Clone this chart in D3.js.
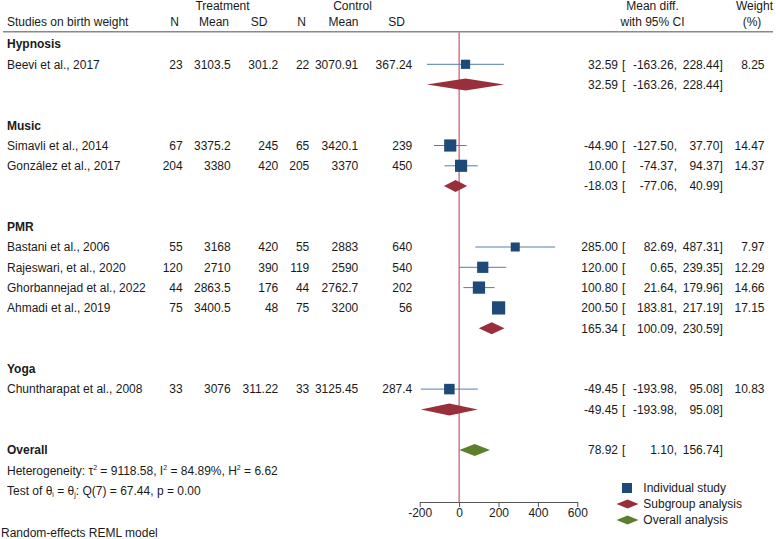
<!DOCTYPE html>
<html><head><meta charset="utf-8">
<script src="https://cdn.jsdelivr.net/npm/d3@7"></script>
<style>body{margin:0;background:#fff}svg{display:block}text{font-family:"Liberation Sans",Arial,Helvetica,sans-serif;font-size:12px;fill:#1a1a1a}</style>
</head><body>
<svg id="c" width="776" height="539"></svg>
<script>
const groups = ["Hypnosis","Music","PMR","Yoga"];
const studyNames = ["Beevi et al., 2017","Simavli et al., 2014","González et al., 2017","Bastani et al., 2006","Rajeswari, et al., 2020","Ghorbannejad et al., 2022","Ahmadi et al., 2019","Chuntharapat et al., 2008"];
const studyGroup = ["Hypnosis","Music","Music","PMR","PMR","PMR","PMR","Yoga"];
const treatN = [23,67,204,55,120,44,75,33];
const treatMean = [3103.5,3375.2,3380,3168,2710,2863.5,3400.5,3076];
const treatSD = [301.2,245,420,420,390,176,48,311.22];
const ctrlN = [22,65,205,55,119,44,75,33];
const ctrlMean = [3070.91,3420.1,3370,2883,2590,2762.7,3200,3125.45];
const ctrlSD = [367.24,239,450,640,540,202,56,287.4];
const effect = [32.59,-44.90,10.00,285.00,120.00,100.80,200.50,-49.45];
const lower = [-163.26,-127.50,-74.37,82.69,0.65,21.64,183.81,-193.98];
const upper = [228.44,37.70,94.37,487.31,239.35,179.96,217.19,95.08];
const weight = [8.25,14.47,14.37,7.97,12.29,14.66,17.15,10.83];
const subEffect = [32.59,-18.03,165.34,-49.45];
const subLower = [-163.26,-77.06,100.09,-193.98];
const subUpper = [228.44,40.99,230.59,95.08];
const overall = [78.92,1.10,156.74];
const xTicks = [-200,0,200,400,600];

const svg = d3.select("#c");
const x = d3.scaleLinear().domain([-200,600]).range([419.7,577.3]);
const rowY = k => 44 + k*20.3;
const BL = 4.3;
const C = {sq:"#1d4a78", ci:"#4f7fb3", dia:"#98303b", green:"#5b7f2b", ref:"#c0304f", rule:"#8a8a8a", axis:"#555"};
const cols = {n1:182.7,m1:230.7,s1:278.3,n2:309.3,m2:358.3,s2:412.3};
const f2 = v => v.toFixed(2);

function txt(xp,y,s,anchor,bold){
  return svg.append("text").attr("x",xp).attr("y",y+BL).attr("text-anchor",anchor||"start")
    .style("font-weight",bold?"bold":null).text(s);
}
// headers
txt(222.5,5.5,"Treatment","middle");
txt(352.5,5.5,"Control","middle");
txt(652.5,5.5,"Mean diff.","middle");
txt(754.5,5.5,"Weight","middle");
txt(7,21.7,"Studies on birth weight");
txt(174.5,21.7,"N","middle");
txt(214,21.7,"Mean","middle");
txt(259,21.7,"SD","middle");
txt(301.5,21.7,"N","middle");
txt(343.5,21.7,"Mean","middle");
txt(396.5,21.7,"SD","middle");
txt(652.5,21.7,"with 95% CI","middle");
txt(752,21.7,"(%)","middle");
svg.append("line").attr("x1",3).attr("x2",773).attr("y1",31.7).attr("y2",31.7).attr("stroke",C.rule).attr("stroke-width",1.6);

// reference line
svg.append("line").attr("x1",x(0)).attr("x2",x(0)).attr("y1",32.5).attr("y2",502).attr("stroke",C.ref).attr("stroke-width",1);

function effText(y,e,l,u){
  txt(618,y,f2(e),"end");
  txt(622,y,"[");
  txt(677,y,f2(l)+",","end");
  txt(722.8,y,f2(u)+"]","end");
}
function diamond(y,e,l,u,col){
  const h=6;
  svg.append("path").attr("d",`M${x(l)},${y}L${x(e)},${y-h}L${x(u)},${y}L${x(e)},${y+h}Z`).attr("fill",col);
}

let k=0;
groups.forEach((g,gi)=>{
  txt(7,rowY(k),g,"start",true); k++;
  studyNames.forEach((s,i)=>{
    if(studyGroup[i]!==g) return;
    const y=rowY(k);
    txt(7,y,s);
    txt(cols.n1,y,String(treatN[i]),"end");
    txt(cols.m1,y,String(treatMean[i]),"end");
    txt(cols.s1,y,String(treatSD[i]),"end");
    txt(cols.n2,y,String(ctrlN[i]),"end");
    txt(cols.m2,y,String(ctrlMean[i]),"end");
    txt(cols.s2,y,String(ctrlSD[i]),"end");
    svg.append("line").attr("x1",x(lower[i])).attr("x2",x(upper[i])).attr("y1",y).attr("y2",y).attr("stroke",C.ci).attr("stroke-width",1);
    const side=3.2*Math.sqrt(weight[i]);
    svg.append("rect").attr("x",x(effect[i])-side/2).attr("y",y-side/2).attr("width",side).attr("height",side).attr("fill",C.sq);
    effText(y,effect[i],lower[i],upper[i]);
    txt(764.5,y,f2(weight[i]),"end");
    k++;
  });
  const y=rowY(k);
  diamond(y,subEffect[gi],subLower[gi],subUpper[gi],C.dia);
  effText(y,subEffect[gi],subLower[gi],subUpper[gi]);
  k+=2;
});
// overall
const yo=rowY(k);
txt(7,yo,"Overall","start",true);
diamond(yo,overall[0],overall[1],overall[2],C.green);
effText(yo,overall[0],overall[1],overall[2]);
k++;
const h1=svg.append("text").attr("x",7).attr("y",rowY(k)+BL);
h1.append("tspan").text("Heterogeneity: τ");
h1.append("tspan").attr("font-size","7px").attr("dy",-5).text("2");
h1.append("tspan").attr("dy",5).text(" = 9118.58, I");
h1.append("tspan").attr("font-size","7px").attr("dy",-5).text("2");
h1.append("tspan").attr("dy",5).text(" = 84.89%, H");
h1.append("tspan").attr("font-size","7px").attr("dy",-5).text("2");
h1.append("tspan").attr("dy",5).text(" = 6.62");
k++;
const h2=svg.append("text").attr("x",7).attr("y",rowY(k)+BL);
h2.append("tspan").text("Test of θ");
h2.append("tspan").attr("font-size","7px").attr("dy",2).text("i");
h2.append("tspan").attr("dy",-2).text(" = θ");
h2.append("tspan").attr("font-size","7px").attr("dy",2).text("j");
h2.append("tspan").attr("dy",-2).text(": Q(7) = 67.44, p = 0.00");

txt(1,533,"Random-effects REML model");

// axis
const ax=svg.append("g").attr("transform","translate(0,502)").call(d3.axisBottom(x).tickValues(xTicks).tickSize(5).tickSizeOuter(0).tickFormat(d=>String(d)));
ax.select(".domain").attr("stroke",C.axis);
ax.selectAll(".tick line").attr("stroke",C.axis);
ax.selectAll(".tick text").attr("fill","#1a1a1a").style("font-size","12px").attr("dy",null).attr("y",14.8);

// legend
const lg=svg.append("g");
lg.append("rect").attr("x",622).attr("y",483).attr("width",10).attr("height",10).attr("fill",C.sq);
lg.append("path").attr("d","M616.5,504L627.5,499.5L638.5,504L627.5,508.5Z").attr("fill",C.dia);
lg.append("path").attr("d","M616.5,520L627.5,515.5L638.5,520L627.5,524.5Z").attr("fill",C.green);
txt(643.3,488,"Individual study");
txt(643.3,504,"Subgroup analysis");
txt(643.3,520,"Overall analysis");
</script>
</body></html>
